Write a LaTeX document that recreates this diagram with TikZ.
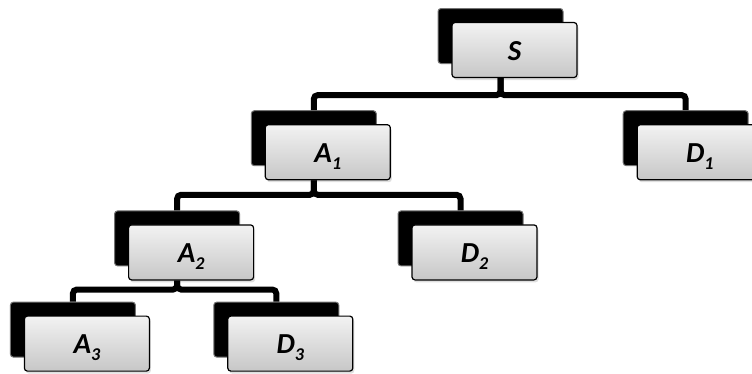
\documentclass[tikz,border=0pt]{standalone}
\usepackage{fontspec}
\setmainfont{Carlito}
\usetikzlibrary{positioning,shadows,backgrounds}

% lowered index after a letter
\newcommand\lsub[1]{\raisebox{-7pt}{\fontsize{18}{18}\selectfont#1}}

\begin{document}
\begin{tikzpicture}[x=1pt,y=-1pt,
	card/.style={draw=black,line width=1.2pt,rounded corners=3pt,
		top color=black!5,bottom color=black!22,
		minimum width=125pt,minimum height=55pt,inner sep=0pt,
		text height=20pt,text depth=0pt,
		font=\fontsize{29}{30}\selectfont\bfseries\itshape,
		drop shadow={shadow xshift=1.5pt,shadow yshift=-2.5pt,opacity=0.25}},
	cardback/.style={fill=black,draw=black!55,line width=1pt,rounded corners=3pt,
		minimum width=125pt,minimum height=55pt,inner sep=0pt},
	link/.style={line width=6pt,rounded corners=4pt}]
	\useasboundingbox (0,0) rectangle (752,373);
	\node[card] (S) at (514.5,50) {S};
	\node[card,below left=46pt and 60.5pt of S] (A1) {A\lsub{1}};
	\node[card,below right=46pt and 59pt of S] (D1) {D\lsub{1}};
	\node[card,below left=44pt and 10.5pt of A1] (A2) {A\lsub{2}};
	\node[card,below right=44pt and 20.5pt of A1] (D2) {D\lsub{2}};
	\node[card,below left=35pt and -22pt of A2] (A3) {A\lsub{3}};
	\node[card,below right=35pt and -27pt of A2] (D3) {D\lsub{3}};
	% black cards behind
	\begin{scope}[on background layer]
		\foreach \n in {S,A1,D1,A2,D2,A3,D3}
			\node[cardback] (b\n) at ([shift={(-14pt,14pt)}]\n.center) {};
	\end{scope}
	\draw[link] (bS |- S.south) -- ++(0,-17pt) -| (bA1.north);
	\draw[link] (bS |- S.south) -- ++(0,-17pt) -| (bD1.north);
	\draw[link] (bA1 |- A1.south) -- ++(0,-14.5pt) -| (bA2.north);
	\draw[link] (bA1 |- A1.south) -- ++(0,-14.5pt) -| (bD2.north);
	\draw[link] (bA2 |- A2.south) -- ++(0,-9pt) -| (bA3.north);
	\draw[link] (bA2 |- A2.south) -- ++(0,-9pt) -| (bD3.north);
\end{tikzpicture}
\end{document}
